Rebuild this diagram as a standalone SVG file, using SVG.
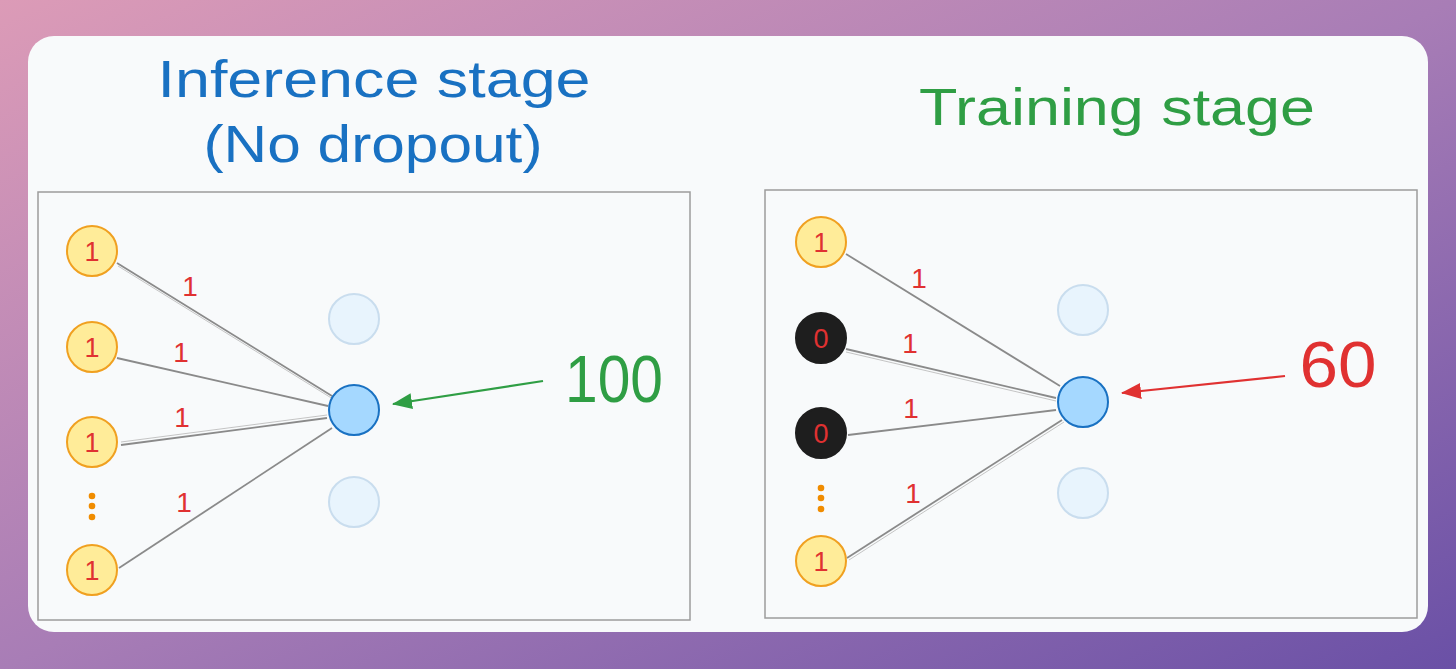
<svg xmlns="http://www.w3.org/2000/svg" width="1456" height="669" viewBox="0 0 1456 669">
  <defs>
    <linearGradient id="bg" x1="0" y1="0" x2="1" y2="1">
      <stop offset="0" stop-color="#dc9bb7"/>
      <stop offset="0.5" stop-color="#a87db6"/>
      <stop offset="1" stop-color="#6a50a6"/>
    </linearGradient>
    <marker id="arrG" viewBox="0 0 20 16" refX="19" refY="8" markerWidth="20" markerHeight="16" markerUnits="userSpaceOnUse" orient="auto">
      <path d="M0,0 L20,8 L0,16 Z" fill="#2f9e44"/>
    </marker>
    <marker id="arrR" viewBox="0 0 20 16" refX="19" refY="8" markerWidth="20" markerHeight="16" markerUnits="userSpaceOnUse" orient="auto">
      <path d="M0,0 L20,8 L0,16 Z" fill="#e03131"/>
    </marker>
  </defs>
  <style>
    text { font-family: "Liberation Sans", Arial, sans-serif; }
    .frame { fill: #f8fafb; stroke: #9c9c9c; stroke-width: 1.5; }
    .inp { fill: #ffec99; stroke: #f0a020; stroke-width: 2; }
    .drop { fill: #1e1e1e; stroke: #1e1e1e; stroke-width: 2; }
    .out { fill: #a5d8ff; stroke: #1971c2; stroke-width: 2; }
    .faint { fill: #e8f4fd; stroke: #c9ddee; stroke-width: 2; }
    .nl { fill: #e03131; font-size: 27px; text-anchor: middle; }
    .el { fill: #e03131; font-size: 28px; text-anchor: middle; }
    .dot { fill: #f08c00; }
    .wire { stroke: #8a8a8a; stroke-width: 1.8; fill: none; }
    .wire2 { stroke: #c4c4c4; stroke-width: 1; fill: none; }
  </style>

  <rect x="0" y="0" width="1456" height="669" fill="url(#bg)"/>
  <rect x="28" y="36" width="1400" height="596" rx="26" fill="#f8fafb"/>

  <g id="title-inference">
    <text x="374" y="97" font-size="52" fill="#1971c2" text-anchor="middle" textLength="433" lengthAdjust="spacingAndGlyphs">Inference stage</text>
    <text x="373" y="162" font-size="52" fill="#1971c2" text-anchor="middle" textLength="339" lengthAdjust="spacingAndGlyphs">(No dropout)</text>
  </g>
  <g id="title-training">
    <text x="1117" y="125" font-size="52" fill="#2f9e44" text-anchor="middle" textLength="396" lengthAdjust="spacingAndGlyphs">Training stage</text>
  </g>

  <rect id="panel-left" class="frame" x="38" y="192" width="652" height="428"/>
  <rect id="panel-right" class="frame" x="765" y="190" width="652" height="428"/>

  <g id="connectors">
    <line class="wire" x1="117" y1="263" x2="332" y2="396"/>
    <line class="wire2" x1="118" y1="266" x2="333" y2="399"/>
    <line class="wire" x1="117" y1="358" x2="328" y2="406"/>
    <line class="wire" x1="121" y1="445" x2="327" y2="418"/>
    <line class="wire2" x1="121" y1="442" x2="327" y2="415"/>
    <line class="wire" x1="119" y1="568" x2="332" y2="428"/>

    <line class="wire" x1="846" y1="254" x2="1060" y2="386"/>
    <line class="wire" x1="846" y1="349" x2="1056" y2="398"/>
    <line class="wire2" x1="846" y1="352" x2="1056" y2="401"/>
    <line class="wire" x1="848" y1="435" x2="1056" y2="410"/>
    <line class="wire" x1="847" y1="558" x2="1062" y2="420"/>
    <line class="wire2" x1="849" y1="560" x2="1064" y2="422"/>

    <line x1="543" y1="381" x2="393" y2="404" stroke="#2f9e44" stroke-width="2.2" marker-end="url(#arrG)"/>
    <line x1="1285" y1="376" x2="1122" y2="393" stroke="#e03131" stroke-width="2.2" marker-end="url(#arrR)"/>

    <text class="el" x="190" y="296">1</text>
    <text class="el" x="181" y="362">1</text>
    <text class="el" x="182" y="427">1</text>
    <text class="el" x="184" y="512">1</text>
    <text class="el" x="919" y="288">1</text>
    <text class="el" x="910" y="353">1</text>
    <text class="el" x="911" y="418">1</text>
    <text class="el" x="913" y="503">1</text>
  </g>

  <g id="inf-in1"><circle class="inp" cx="92" cy="251" r="25"/><text class="nl" x="92" y="261">1</text></g>
  <g id="inf-in2"><circle class="inp" cx="92" cy="347" r="25"/><text class="nl" x="92" y="357">1</text></g>
  <g id="inf-in3"><circle class="inp" cx="92" cy="442" r="25"/><text class="nl" x="92" y="452">1</text></g>
  <g id="inf-dots"><circle class="dot" cx="92" cy="496" r="3.3"/><circle class="dot" cx="92" cy="506" r="3.3"/><circle class="dot" cx="92" cy="517" r="3.3"/></g>
  <g id="inf-in4"><circle class="inp" cx="92" cy="570" r="25"/><text class="nl" x="92" y="580">1</text></g>
  <g id="inf-h1"><circle class="faint" cx="354" cy="319" r="25"/></g>
  <g id="inf-out"><circle class="out" cx="354" cy="410" r="25"/></g>
  <g id="inf-h3"><circle class="faint" cx="354" cy="502" r="25"/></g>
  <g id="inf-value"><text x="614" y="402" font-size="66" fill="#2f9e44" text-anchor="middle" textLength="98" lengthAdjust="spacingAndGlyphs">100</text></g>

  <g id="tr-in1"><circle class="inp" cx="821" cy="242" r="25"/><text class="nl" x="821" y="252">1</text></g>
  <g id="tr-in2"><circle class="drop" cx="821" cy="338" r="25"/><text class="nl" x="821" y="348">0</text></g>
  <g id="tr-in3"><circle class="drop" cx="821" cy="433" r="25"/><text class="nl" x="821" y="443">0</text></g>
  <g id="tr-dots"><circle class="dot" cx="821" cy="488" r="3.3"/><circle class="dot" cx="821" cy="498" r="3.3"/><circle class="dot" cx="821" cy="509" r="3.3"/></g>
  <g id="tr-in4"><circle class="inp" cx="821" cy="561" r="25"/><text class="nl" x="821" y="571">1</text></g>
  <g id="tr-h1"><circle class="faint" cx="1083" cy="310" r="25"/></g>
  <g id="tr-out"><circle class="out" cx="1083" cy="402" r="25"/></g>
  <g id="tr-h3"><circle class="faint" cx="1083" cy="493" r="25"/></g>
  <g id="tr-value"><text x="1338" y="387" font-size="64" fill="#e03131" text-anchor="middle" textLength="77" lengthAdjust="spacingAndGlyphs">60</text></g>
</svg>
